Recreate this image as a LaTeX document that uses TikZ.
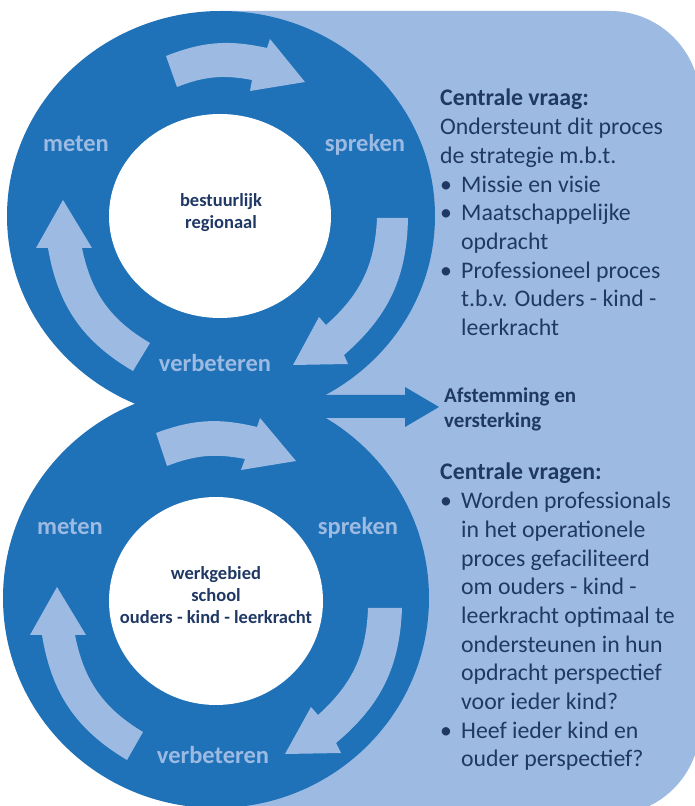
\documentclass[tikz,border=0pt]{standalone}
\usepackage{fontspec}
\setmainfont{Carlito}
\definecolor{dblue}{HTML}{1F71B8}
\definecolor{lblue}{HTML}{9DBBE2}
\definecolor{navy}{HTML}{203864}
\begin{document}
\begin{tikzpicture}[x=1pt,y=1pt,
  ringfill/.style={fill=dblue},
  cyc/.style={fill=lblue},
  lbl/.style={font=\bfseries\fontsize{24.5}{29}\selectfont, text=lblue, inner sep=0, anchor=base},
  ctr/.style={font=\bfseries\fontsize{18.5}{22}\selectfont, text=navy, inner sep=0, anchor=base},
  rt/.style={font=\fontsize{23.8}{28.7}\selectfont, text=navy, inner sep=0, anchor=base west},
  rtb/.style={font=\bfseries\fontsize{23.8}{28.7}\selectfont, text=navy, inner sep=0, anchor=base west},
  bul/.style={font=\fontsize{23.8}{28.7}\selectfont, text=navy, inner sep=0, anchor=base},
  af/.style={font=\bfseries\fontsize{21}{25}\selectfont, text=navy, inner sep=0, anchor=base west}]
\useasboundingbox (0,0) rectangle (694,806);
\fill[white] (0,0) rectangle (694,806);
% light background panel, rounded on the right only
\fill[lblue] (221,-9) -- (221,795) -- (610,795) arc[start angle=90, end angle=0, radius=90]
  -- (700,81) arc[start angle=0, end angle=-90, radius=90] -- cycle;
% outer rings
\fill[ringfill] (216,208) ellipse [x radius=213, y radius=210];
\fill[ringfill] (221,590) ellipse [x radius=214, y radius=205];
% inner discs
\fill[white] (220,590) ellipse [x radius=111, y radius=102];
\fill[white] (216,205) ellipse [x radius=107, y radius=104];
% cycle arrows, upper circle
\fill[cyc] (177,719) to[bend left=16] (252,726) -- (250,715) -- (305,724) -- (270,767) -- (267,758) to[bend right=17] (166,750) -- cycle;
\fill[cyc] (377,588) to[bend left=23] (326,481) -- (319,489) -- (293,441) -- (348,442) -- (344,451) to[bend right=24] (408,588) -- cycle;
\fill[cyc] (150,463) to[bend left=24] (82,558) -- (92,558) -- (63,606) -- (36,558) -- (48,558) to[bend right=25] (133,435) -- cycle;
% cycle arrows, lower circle
\fill[cyc] (167,340) to[bend left=16] (245,347) -- (241,336) -- (296,345) -- (260,388) -- (257,379) to[bend right=17] (156,373) -- cycle;
\fill[cyc] (368,198) to[bend left=23] (318,91) -- (311,99) -- (285,52) -- (341,53) -- (336,63) to[bend right=24] (402,198) -- cycle;
\fill[cyc] (143,74) to[bend left=24] (75,171) -- (86,171) -- (57,219) -- (30,171) -- (42,171) to[bend right=25] (127,46) -- cycle;
% big arrow
\fill[dblue] (300,388) -- (405,388) -- (405,379) -- (439,399) -- (405,419) -- (405,411) -- (300,411) -- cycle;
% ring labels
\node[lbl] (m1) at (76,654) {meten};
\node[lbl] (s1) at (365,654) {spreken};
\node[lbl] (v1) at (215,434) {verbeteren};
\node[lbl] (m2) at (70,271) {meten};
\node[lbl] (s2) at (358,271) {spreken};
\node[lbl] (v2) at (213,42) {verbeteren};
% centre texts
\node[ctr] (c1a) at (221,599) {bestuurlijk};
\node[ctr] (c1b) at (221,577) {regionaal};
\node[ctr] (c2a) at (216,226) {werkgebied};
\node[ctr] (c2b) at (216,204) {school};
\node[ctr] (c2c) at (216,182) {ouders - kind - leerkracht};
% right text, upper
\node[rtb] (t1) at (440,700) {Centrale vraag:};
\node[rt] (t2) at (440,671.3) {Ondersteunt dit proces};
\node[rt] (t3) at (440,642.6) {de strategie m.b.t.};
\node[bul] (b1) at (446,613.9) {•};
\node[rt] (t4) at (461,613.9) {Missie en visie};
\node[bul] (b2) at (446,585.2) {•};
\node[rt] (t5) at (461,585.2) {Maatschappelijke};
\node[rt] (t6) at (461,556.5) {opdracht};
\node[bul] (b3) at (446,527.8) {•};
\node[rt] (t7) at (461,527.8) {Professioneel proces};
\node[rt] (t8) at (461,499.1) {t.b.v. Ouders - kind -};
\node[rt] (t9) at (461,470.4) {leerkracht};
% middle
\node[af] (a1) at (444,403) {Afstemming en};
\node[af] (a2) at (444,378) {versterking};
% right text, lower
\node[rtb] (u1) at (440,326) {Centrale vragen:};
\node[bul] (d1) at (446,297.3) {•};
\node[rt] (u2) at (461,297.3) {Worden professionals};
\node[rt] (u3) at (461,268.6) {in het operationele};
\node[rt] (u4) at (461,239.9) {proces gefaciliteerd};
\node[rt] (u5) at (461,211.2) {om ouders - kind -};
\node[rt] (u6) at (461,182.5) {leerkracht optimaal te};
\node[rt] (u7) at (461,153.8) {ondersteunen in hun};
\node[rt] (u8) at (461,125.1) {opdracht perspectief};
\node[rt] (u9) at (461,96.4) {voor ieder kind?};
\node[bul] (d2) at (446,67.7) {•};
\node[rt] (u10) at (461,67.7) {Heef ieder kind en};
\node[rt] (u11) at (461,39) {ouder perspectief?};
\end{tikzpicture}
\end{document}
